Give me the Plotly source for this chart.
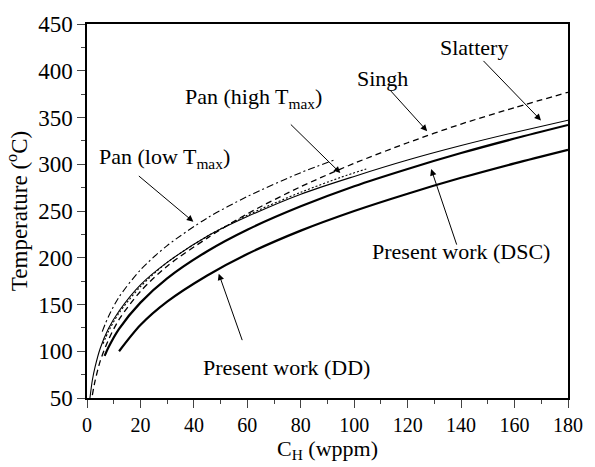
import plotly.graph_objects as go

# ---- data ----
slattery_c = [1.1, 2, 3, 5, 8, 12, 20, 30, 45, 60, 80, 100, 120, 140, 160, 180]
slattery_t = [50, 69, 83, 103.5, 124, 143, 171, 195, 223, 244, 268, 287, 304.5, 320, 334, 347]

singh_c = [2, 3, 5, 8, 12, 20, 30, 45, 60, 80, 100, 120, 140, 160, 180]
singh_t = [53, 68, 90, 112, 134, 164, 191, 221, 247, 276, 301, 323, 343, 360.5, 377]

pan_high_c = [6, 8, 12, 20, 30, 45, 60, 80, 95, 104.5]
pan_high_t = [108, 121, 141, 169, 195, 223, 245.5, 270, 286, 295]

pan_low_c = [5.7, 8, 12, 20, 30, 45, 60, 80, 93]
pan_low_t = [121, 137, 158, 187, 213, 242.5, 265.5, 291, 305]

dsc_c = [6.6, 8, 12, 20, 30, 45, 60, 80, 100, 120, 140, 160, 180]
dsc_t = [95, 104, 124, 152, 178, 207, 230, 255, 276.5, 295, 312, 327.5, 342]

dd_c = [12, 20, 30, 45, 60, 80, 100, 120, 140, 160, 180]
dd_t = [100, 128, 153, 181, 204, 229, 250, 268.5, 285.5, 301, 315.5]

x_ticks = [0, 20, 40, 60, 80, 100, 120, 140, 160, 180]
y_ticks = [50, 100, 150, 200, 250, 300, 350, 400, 450]

FONT = "Liberation Serif"
W, H = 595, 467
ML, MR, MT, MB = 87, 26, 19, 64
PW, PH = W - ML - MR, H - MT - MB

fig = go.Figure()

def add(cx, ty, width, dash):
    fig.add_trace(go.Scatter(x=cx, y=ty, mode="lines",
                             line=dict(color="black", width=width, dash=dash, shape="spline", smoothing=0.8),
                             showlegend=False, hoverinfo="skip"))

add(pan_low_c, pan_low_t, 1.1, "7px,3px,2px,3px")
add(pan_high_c, pan_high_t, 1.1, "2px,2px")
add(singh_c, singh_t, 1.3, "6px,4px")
add(slattery_c, slattery_t, 1.1, "solid")
add(dsc_c, dsc_t, 2.2, "solid")
add(dd_c, dd_t, 2.2, "solid")

# labels (centre positions in figure pixels)
labels = [
    ("Pan (low T<sub>max</sub>)", 165, 157),
    ("Pan (high T<sub>max</sub>)", 254, 95),
    ("Singh", 383, 75),
    ("Slattery", 475, 43),
    ("Present work (DSC)", 462, 253),
    ("Present work (DD)", 287, 372),
]
for txt, px, py in labels:
    fig.add_annotation(text=txt, x=(px - ML) / PW, y=1 - (py - MT) / PH, xref="paper", yref="paper",
                       showarrow=False, font=dict(family=FONT, size=22, color="black"),
                       xanchor="center", yanchor="middle")

# arrows: (tip C, tip T, tail dx px, tail dy px)
arrows = [
    (39.8, 238.5, -56, -47),
    (94.8, 290.6, -51, -50),
    (127.3, 335.4, -38, -42),
    (169.9, 346.9, -59, -61),
    (128.8, 294.8, 26, 77),
    (49.3, 183.0, 24, 68),
]
for cx, ty, dx, dy in arrows:
    fig.add_annotation(x=cx, y=ty, xref="x", yref="y", ax=dx, ay=dy, axref="pixel", ayref="pixel",
                       text="", showarrow=True, arrowhead=2, arrowsize=1.3, arrowwidth=1,
                       arrowcolor="black")

fig.update_layout(
    width=W, height=H,
    margin=dict(l=ML, r=MR, t=MT, b=MB),
    paper_bgcolor="white", plot_bgcolor="white",
    font=dict(family=FONT, color="black"),
)
fig.update_xaxes(range=[0, 180], tickvals=x_ticks, ticks="outside", ticklen=8, tickwidth=1.2,
                 minor=dict(dtick=10, ticks="outside", ticklen=4, tickwidth=1.2),
                 showline=True, linecolor="black", linewidth=1.5, mirror=True, showgrid=False,
                 zeroline=False, tickfont=dict(size=20, family=FONT),
                 title=dict(text="C<sub>H</sub> (wppm)", font=dict(size=22, family=FONT), standoff=4))
fig.update_yaxes(range=[50, 450], tickvals=y_ticks, ticks="outside", ticklen=8, tickwidth=1.2,
                 minor=dict(dtick=25, ticks="outside", ticklen=4, tickwidth=1.2),
                 showline=True, linecolor="black", linewidth=1.5, mirror=True, showgrid=False,
                 zeroline=False, tickfont=dict(size=23, family=FONT),
                 title=dict(text="Temperature (<sup>o</sup>C)", font=dict(size=23, family=FONT), standoff=4))

fig.write_html("out.html")
